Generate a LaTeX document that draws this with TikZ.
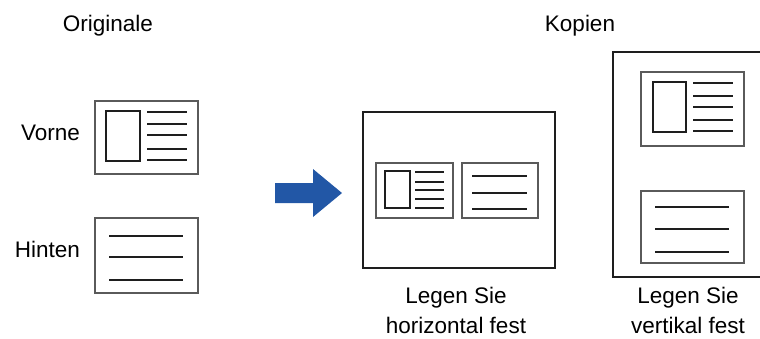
\documentclass[tikz,border=0pt]{standalone}
\usepackage{fontspec}
\setmainfont{Liberation Sans}
\definecolor{arrowblue}{RGB}{34,87,166}
\definecolor{cardgray}{RGB}{90,90,90}
\definecolor{ink}{RGB}{30,30,30}
\begin{document}
\begin{tikzpicture}[x=1pt,y=-1pt,
  lbl/.style={inner sep=0pt,font=\fontsize{22.5}{30}\selectfont,text=black},
  card/.style={draw=cardgray,line width=1.1pt},
  page/.style={draw=ink,line width=2pt},
  photo/.style={draw=ink,line width=1.8pt},
  txtline/.style={draw=ink,line width=1.8pt}]
\useasboundingbox (0,0) rectangle (760,338);

% labels
\node[lbl,anchor=base] (orig) at (108,31) {Originale};
\node[lbl,anchor=base] (kop) at (580,31) {Kopien};
\node[lbl,anchor=base east] (vorne) at (80,140) {Vorne};
\node[lbl,anchor=base east] (hinten) at (80,257) {Hinten};
\node[lbl,anchor=base] (h1) at (456,303) {Legen Sie};
\node[lbl,anchor=base] (h2) at (456,333) {horizontal fest};
\node[lbl,anchor=base] (v1) at (688,303) {Legen Sie};
\node[lbl,anchor=base] (v2) at (688,333) {vertikal fest};

% original front
\draw[card] (95,101) rectangle (198,174);
\draw[photo] (106,111) rectangle (140,161);
\foreach \y in {112,124,135,149,160} \draw[txtline] (147,\y) -- (187,\y);
% original back
\draw[card] (95,218) rectangle (198,293);
\foreach \y in {236,257,280} \draw[txtline] (109,\y) -- (183,\y);

% arrow
\fill[arrowblue] (275,183) -- (313,183) -- (313,169) -- (342,193) -- (313,217) -- (313,203) -- (275,203) -- cycle;

% horizontal copy page
\draw[page] (363,112) rectangle (555,268);
\draw[card] (376,163) rectangle (453,218);
\draw[photo] (385,171) rectangle (410,208);
\foreach \y in {172,182,190,199,208} \draw[txtline] (415,\y) -- (444,\y);
\draw[card] (462,163) rectangle (538,218);
\foreach \y in {176,193,209} \draw[txtline] (472,\y) -- (527,\y);

% vertical copy page (clipped at right)
\draw[page] (761,52) -- (613,52) -- (613,277) -- (761,277);
\draw[card] (641,72) rectangle (744,146);
\draw[photo] (653,82) rectangle (686,132);
\foreach \y in {83,96,107,120,131} \draw[txtline] (693,\y) -- (733,\y);
\draw[card] (641,191) rectangle (744,263);
\foreach \y in {207,229,252} \draw[txtline] (655,\y) -- (729,\y);
\end{tikzpicture}
\end{document}
